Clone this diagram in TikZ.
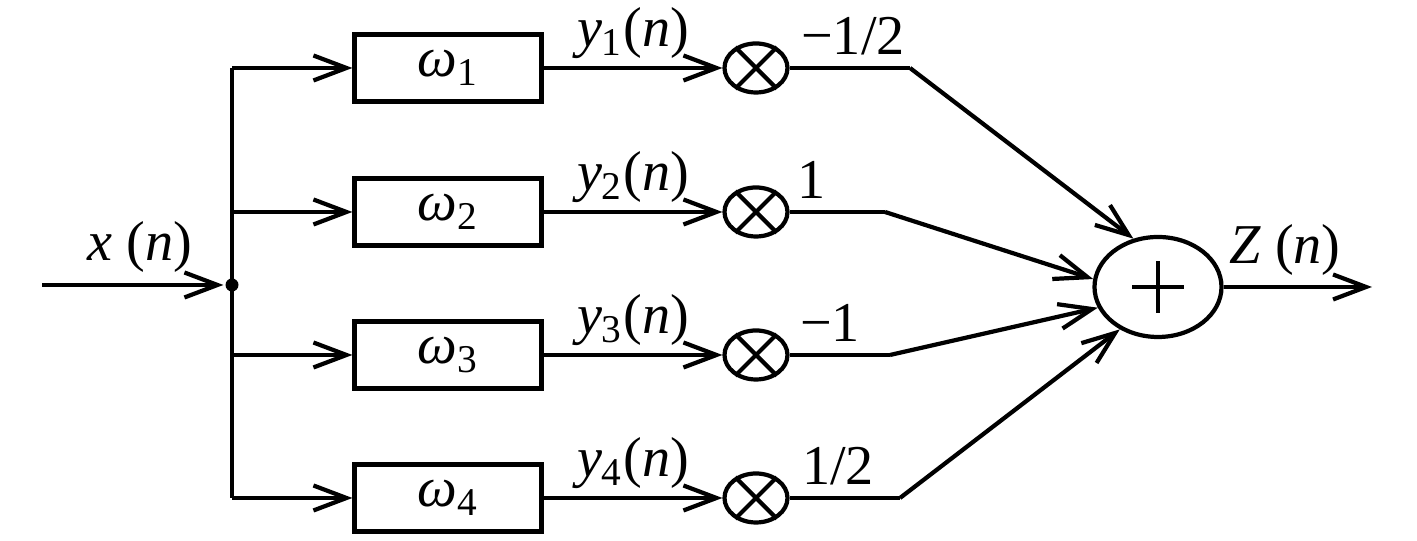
\documentclass[tikz,border=0pt]{standalone}
\usepackage{fontspec}
\setmainfont{Liberation Serif}
\usetikzlibrary{arrows.meta,shapes.geometric}

\begin{document}
\begin{tikzpicture}[
  line width=1.2pt,
  >={Straight Barb[length=3.3mm,width=2.5mm]},
  lbl/.style={font=\fontsize{16}{19}\selectfont, inner sep=1pt},
  blk/.style={
    draw, minimum width=1.87cm, minimum height=0.67cm,
    inner sep=0pt, font=\fontsize{16}{19}\selectfont
  },
  mul/.style={ellipse, draw, minimum width=0.63cm, minimum height=0.49cm, inner sep=0pt},
  adder/.style={ellipse, draw, minimum width=1.27cm, minimum height=1.0cm, inner sep=0pt}
]
  \useasboundingbox (0,0) rectangle (14.17,5.41);
  \coordinate (in) at (0.42,2.56);
  \node[circle, fill, inner sep=0pt, minimum size=0.13cm] (j) at (2.32,2.56) {};
  \draw[->] (in) -- (j);
  \node[lbl] at (1.40,2.94) {\textit{x} (\textit{n})};
  \node[adder] (s) at (11.58,2.54) {};
  \draw ([xshift=-0.26cm]s.center) -- ([xshift=0.26cm]s.center)
        ([yshift=-0.26cm]s.center) -- ([yshift=0.26cm]s.center);
  \foreach \i/\y/\kx/\c/\cx/\a in {1/4.73/9.10/{−1/2}/8.53/117,
      2/3.29/8.85/1/8.12/173, 3/1.86/8.90/{−1}/8.30/199, 4/0.43/9.00/{1/2}/8.38/228} {
    \coordinate (b\i) at (2.32,\y);
    \coordinate (k\i) at (\kx,\y);
    \node[blk] (w\i) at (4.48,\y) {\textit{ω}\textsubscript{\i}};
    \node[mul] (m\i) at (7.56,\y) {};
    \draw (m\i.45) -- (m\i.225) (m\i.135) -- (m\i.315);
    \draw[->] (b\i) -- (w\i);
    \draw[->] (w\i) -- node[lbl, above=1pt]{\textit{y}\textsubscript{\i}(\textit{n})} (m\i);
    \draw (m\i) -- (k\i);
    \draw[->] (k\i) -- (s.\a);
    \node[lbl] at (\cx,\y+0.32) {\c};
  }
  \draw (b1) -- (b4);
  \coordinate (out) at (13.72,2.54);
  \draw[->] (s) -- (out);
  \node[lbl] at (12.85,2.91) {\textit{Z} (\textit{n})};
\end{tikzpicture}
\end{document}
